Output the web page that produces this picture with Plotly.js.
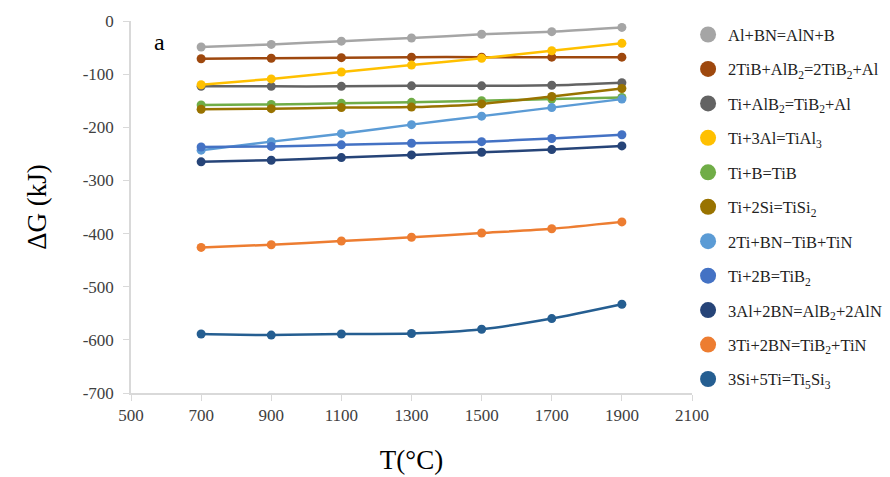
<!DOCTYPE html>
<html>
<head>
<meta charset="utf-8">
<script src="https://cdn.plot.ly/plotly-3.0.1.min.js"></script>
<style>html,body{margin:0;padding:0;background:#fff;}#chart{width:890px;height:477px;}</style>
</head>
<body>
<div id="chart"></div>
<script>
const temps = [700, 900, 1100, 1300, 1500, 1700, 1900];
const xTicks = [500, 700, 900, 1100, 1300, 1500, 1700, 1900, 2100];
const yTicks = [0, -100, -200, -300, -400, -500, -600, -700];
const yTickText = ["0", "-100", "-200", "-300", "-400", "-500", "-600", "-700"];
const seriesNames = [
  "Al+BN=AlN+B",
  "2TiB+AlB<sub>2</sub>=2TiB<sub>2</sub>+Al",
  "Ti+AlB<sub>2</sub>=TiB<sub>2</sub>+Al",
  "Ti+3Al=TiAl<sub>3</sub>",
  "Ti+B=TiB",
  "Ti+2Si=TiSi<sub>2</sub>",
  "2Ti+BN\u2212TiB+TiN",
  "Ti+2B=TiB<sub>2</sub>",
  "3Al+2BN=AlB<sub>2</sub>+2AlN",
  "3Ti+2BN=TiB<sub>2</sub>+TiN",
  "3Si+5Ti=Ti<sub>5</sub>Si<sub>3</sub>"
];
const alBN      = [-49, -44, -38, -32, -25, -20, -12];
const tiB_AlB2  = [-71, -70, -69, -68, -68, -68, -68];
const ti_AlB2   = [-123, -123, -123, -122, -122, -121, -116];
const tiAl3     = [-120, -109, -96, -83, -70, -56, -42];
const tiB       = [-158, -157, -155, -153, -150, -147, -144];
const tiSi2     = [-166, -165, -163, -162, -156, -142, -127];
const ti2BN     = [-243, -227, -212, -195, -179, -163, -147];
const tiB2      = [-237, -236, -233, -230, -227, -221, -214];
const al3BN     = [-265, -262, -257, -252, -247, -242, -235];
const ti3BN     = [-426, -421, -414, -407, -399, -391, -378];
const ti5Si3    = [-589, -591, -589, -588, -580, -560, -533];
const seriesValues = [alBN, tiB_AlB2, ti_AlB2, tiAl3, tiB, tiSi2, ti2BN, tiB2, al3BN, ti3BN, ti5Si3];
const colors = ["#A5A5A5", "#9E480E", "#636363", "#FFC000", "#70AD47", "#997300",
                "#5B9BD5", "#4472C4", "#264478", "#ED7D31", "#255E91"];

const serif = "Liberation Serif";
const traces = [];
seriesValues.forEach((vals, i) => {
  traces.push({
    x: temps, y: vals, type: "scatter", mode: "lines+markers",
    line: {color: colors[i], width: 2.5, shape: "spline", smoothing: 0.6},
    marker: {color: colors[i], size: 9},
    showlegend: false, hoverinfo: "skip"
  });
});
seriesNames.forEach((nm, i) => {
  traces.push({
    x: [null], y: [null], type: "scatter", mode: "markers",
    name: nm, legendgroup: "g" + i,
    marker: {color: colors[i], size: 18}
  });
});

const axFont = {family: serif, size: 17, color: "#404040"};
const layout = {
  width: 890, height: 477,
  margin: {l: 131, r: 198, t: 21, b: 84, autoexpand: false},
  paper_bgcolor: "#fff", plot_bgcolor: "#fff",
  font: {family: serif},
  xaxis: {
    range: [500, 2100], tickvals: xTicks,
    showgrid: false, zeroline: false, showline: true, linecolor: "#D9D9D9", linewidth: 1.5,
    ticks: "outside", ticklen: 6, tickcolor: "#D9D9D9", tickfont: axFont,
    title: {text: "T(°C)", font: {family: serif, size: 27, color: "#000"}, standoff: 26}
  },
  yaxis: {
    range: [-700, 0], tickvals: yTicks, ticktext: yTickText,
    showgrid: false, zeroline: false, showline: true, linecolor: "#D9D9D9", linewidth: 1.5,
    ticks: "outside", ticklen: 6, tickcolor: "#D9D9D9", tickfont: axFont,
    ticklabelstandoff: 6,
    title: {text: "ΔG (kJ)", font: {family: serif, size: 27, color: "#000"}, standoff: 28}
  },
  legend: {
    x: 0.993, xanchor: "left", y: 1.01, yanchor: "top", xref: "paper",
    font: {family: serif, size: 16.5, color: "#222"},
    tracegroupgap: 10, traceorder: "grouped", itemwidth: 30,
    maxheight: 470,
    bgcolor: "rgba(0,0,0,0)"
  },
  annotations: [{
    x: 0.037, y: 0.944, xref: "paper", yref: "paper", xanchor: "left", yanchor: "middle",
    text: "a", showarrow: false,
    font: {family: serif, size: 24, color: "#000"}
  }]
};
Plotly.newPlot("chart", traces, layout, {displayModeBar: false});
</script>
</body>
</html>
